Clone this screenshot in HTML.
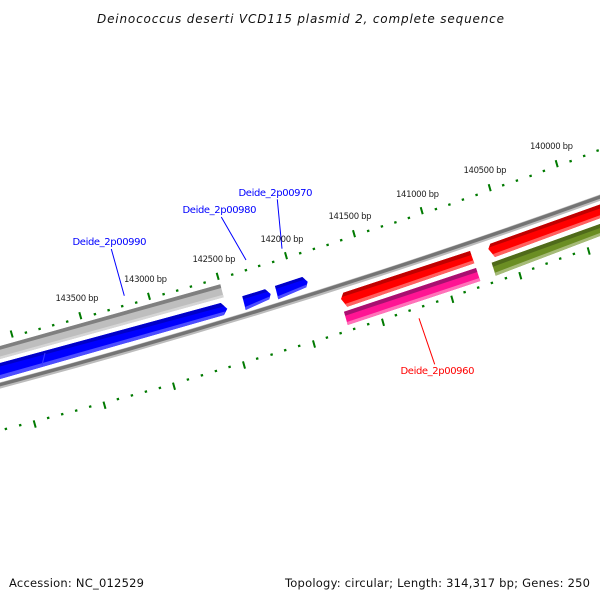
<!DOCTYPE html>
<html><head><meta charset="utf-8"><style>
html,body{margin:0;padding:0;background:#fff}
svg{display:block}
text{font-family:"DejaVu Sans","Liberation Sans",sans-serif}
.bp{font-size:8.5px;fill:#222}
.g{font-size:10px}
.b{font-size:11.5px;fill:#111}
</style></head><body>
<svg width="600" height="600" viewBox="0 0 600 600" xmlns="http://www.w3.org/2000/svg">
<rect width="600" height="600" fill="#fff"/>
<text x="97" y="23" font-size="12" font-style="italic" fill="#111" textLength="407" lengthAdjust="spacing">Deinococcus deserti VCD115 plasmid 2, complete sequence</text>

<!-- upper ticks -->
<path fill="none" stroke="#007a00" stroke-width="2" stroke-linecap="butt" d="M10.7 330.5l2 7M79.3 312.2l2 7M148 292.8l2 7M216.7 272.8l2 7M285 252.2l2 7M353 230.2l2 7M420.7 207.2l2 7M488.7 184.2l2 7M555.7 160.2l2 7"/>
<path fill="none" stroke="#007a00" stroke-width="2.4" d="M25.6 331.5l.6 2.2M39.3 327.8l.6 2.2M52.9 324.1l.6 2.2M66.9 320.5l.6 2.2M94.6 313.1l.6 2.2M108.3 309.1l.6 2.2M121.9 305.1l.6 2.2M135.9 301.5l.6 2.2M163.3 293.1l.6 2.2M176.9 289.5l.6 2.2M190.6 285.5l.6 2.2M204.3 281.5l.6 2.2M231.9 273.5l.6 2.2M245.6 269.1l.6 2.2M258.9 264.8l.6 2.2M272.9 260.8l.6 2.2M299.9 252.1l.6 2.2M313.6 247.8l.6 2.2M327.3 243.8l.6 2.2M340.9 239.1l.6 2.2M367.9 229.8l.6 2.2M381.6 225.3l.6 2.2M395.1 221.3l.6 2.2M408.6 216.8l.6 2.2M435.6 208l.6 2.2M449.1 203.5l.6 2.2M462.6 198.5l.6 2.2M476.3 193.8l.6 2.2M502.9 184.1l.6 2.2M516.6 179.5l.6 2.2M530.3 174.8l.6 2.2M543.6 169.8l.6 2.2M570.3 160.1l.6 2.2M583.9 154.8l.6 2.2M597.3 149.5l.6 2.2"/>

<!-- lower ticks -->
<path fill="none" stroke="#007a00" stroke-width="2" d="M33.7 420.4l2 7.2M103.5 401.6l2 7.2M173 382.6l2 7.2M243 361.4l2 7.2M313 340.4l2 7.2M382 318.7l2 7.2M451.3 295.7l2 7.2M519.3 272.1l2 7.2M587.7 247.4l2 7.2"/>
<path fill="none" stroke="#007a00" stroke-width="2.4" d="M5.6 427.8l.6 2.2M19.9 424.1l.6 2.2M47.9 416.8l.6 2.2M61.9 413.1l.6 2.2M75.9 409.5l.6 2.2M89.9 405.5l.6 2.2M117.6 398l.6 2.2M131.6 394.3l.6 2.2M145.6 390.5l.6 2.2M159.6 386.8l.6 2.2M187.6 378.4l.6 2.2M201.6 374.2l.6 2.2M215.6 369.9l.6 2.2M229.3 365.8l.6 2.2M256.9 357.5l.6 2.2M271.3 353.5l.6 2.2M284.9 349.1l.6 2.2M298.9 344.8l.6 2.2M326.6 336.5l.6 2.2M340.3 332.1l.6 2.2M353.9 327.8l.6 2.2M367.9 323.1l.6 2.2M395.6 314.1l.6 2.2M409.3 309.5l.6 2.2M422.9 305.1l.6 2.2M436.9 300.5l.6 2.2M464.3 291.1l.6 2.2M477.9 286.5l.6 2.2M491.6 281.8l.6 2.2M505.6 277.1l.6 2.2M532.9 267.5l.6 2.2M546.3 262.5l.6 2.2M559.9 257.5l.6 2.2M573.6 252.8l.6 2.2"/>

<!-- backbone -->
<path d="M-2 386Q300 306 602 197" fill="none" stroke="#bcbcbc" stroke-width="6"/>
<path d="M-2 385.2Q300 305.2 602 196.2" fill="none" stroke="#747474" stroke-width="3.4"/>

<!-- grey band -->
<polygon points="0,346 220.3,284.3 223.7,297.3 0,359" fill="#bebebe"/>
<polygon points="0,346 220.3,284.3 221.2,288 0,349.7" fill="#808080"/>
<polygon points="0,356.5 223,294.8 223.7,297.3 0,359" fill="#d6d6d6"/>

<!-- long blue -->
<polygon points="0,363 220.7,303 227.3,308.7 224,315 0,379" fill="#0000ff"/>
<polygon points="0,363 220.7,303 224.5,306.3 0,366.5" fill="#0000c8"/>
<polygon points="0,375 224.9,311.5 224,315 0,379" fill="#4d4dff"/>
<path d="M45 353L42 365" stroke="#3a3aff" stroke-width="1" fill="none"/>

<!-- small blue A -->
<polygon points="242.3,296.3 265,289.3 270.7,294 269.3,299.3 245.7,310" fill="#0000ff"/>
<polygon points="242.3,296.3 265,289.3 268,291.6 243.1,299.3" fill="#0000c8"/>
<polygon points="245,307 270,296.4 269.3,299.3 245.7,310" fill="#4d4dff"/>
<!-- small blue B -->
<polygon points="275,286 302.3,277 307.7,281.7 306.3,287.3 278.3,299.3" fill="#0000ff"/>
<polygon points="275,286 302.3,277 305,279.4 275.8,289" fill="#0000c8"/>
<polygon points="277.5,296.4 307,284.4 306.3,287.3 278.3,299.3" fill="#4d4dff"/>

<!-- red 1 -->
<polygon points="343.3,292.7 470,251 474.3,263.3 347.3,306.7 341,299" fill="#ff0000"/>
<polygon points="343.3,292.7 470,251 471.3,255 341.8,297" fill="#c00000"/>
<polygon points="345,304 473.3,260.3 474.3,263.3 347.3,306.7" fill="#ff6060"/>
<!-- pink -->
<polygon points="344,311.7 476,268 480.3,281 347.7,325" fill="#ff1493"/>
<polygon points="344,311.7 476,268 477.3,272 345.2,315.7" fill="#a81070"/>
<polygon points="346.9,322 479.4,278 480.3,281 347.7,325" fill="#ff72b9"/>
<!-- red 2 -->
<polygon points="490.3,243.7 600,204.5 600,218.3 495,257 488.3,249" fill="#ff0000"/>
<polygon points="490.3,243.7 600,204.5 600,208.5 489,247.5" fill="#c00000"/>
<polygon points="492.6,254.2 600,215.3 600,218.3 495,257" fill="#ff6060"/>
<!-- olive -->
<polygon points="491.7,262.7 600,224 600,236 495.7,275.7" fill="#6b8e23"/>
<polygon points="491.7,262.7 600,224 600,228 492.9,266.7" fill="#4f6a1a"/>
<polygon points="494.9,272.7 600,233 600,236 495.7,275.7" fill="#a6bb78"/>

<!-- label lines -->
<path d="M111.3 249L124.3 295.7M221.3 217L246 260M277.3 199.3L282 248.7" stroke="#0000ff" stroke-width="1" fill="none"/>
<path d="M419 318.3L434.7 364.3" stroke="#ff0000" stroke-width="1" fill="none"/>

<!-- bp labels -->
<text class="bp" x="55.5" y="301" textLength="43">143500 bp</text>
<text class="bp" x="124" y="282" textLength="43">143000 bp</text>
<text class="bp" x="192.5" y="262" textLength="43">142500 bp</text>
<text class="bp" x="260.5" y="242" textLength="43">142000 bp</text>
<text class="bp" x="328.5" y="219" textLength="43">141500 bp</text>
<text class="bp" x="396" y="197" textLength="43">141000 bp</text>
<text class="bp" x="463.5" y="173" textLength="43">140500 bp</text>
<text class="bp" x="530" y="149" textLength="43">140000 bp</text>

<!-- gene labels -->
<text class="g" x="72.5" y="245" fill="#0000ff" textLength="74" lengthAdjust="spacing">Deide_2p00990</text>
<text class="g" x="182.5" y="213" fill="#0000ff" textLength="74" lengthAdjust="spacing">Deide_2p00980</text>
<text class="g" x="238.5" y="196" fill="#0000ff" textLength="74" lengthAdjust="spacing">Deide_2p00970</text>
<text class="g" x="400.5" y="374" fill="#ff0000" textLength="74" lengthAdjust="spacing">Deide_2p00960</text>

<!-- footer -->
<text class="b" x="9" y="587" textLength="135" lengthAdjust="spacing">Accession: NC_012529</text>
<text class="b" x="285" y="587" textLength="305" lengthAdjust="spacing">Topology: circular; Length: 314,317 bp; Genes: 250</text>
</svg>
</body></html>
